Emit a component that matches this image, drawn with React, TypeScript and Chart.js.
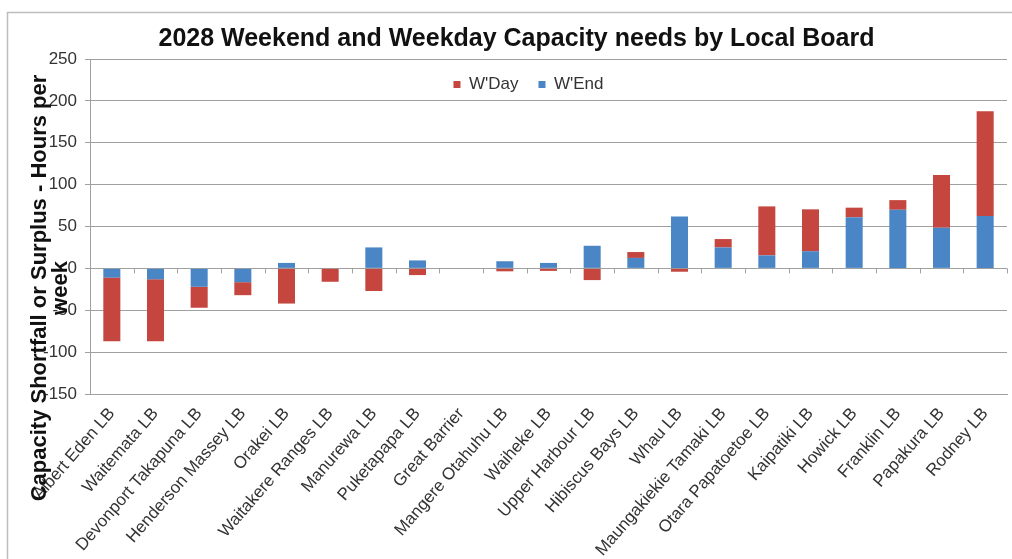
import React, { useEffect, useRef } from 'react';
import { Chart, registerables } from 'chart.js';

Chart.register(...registerables);

const categories = [
  'Albert Eden LB', 'Waitemata LB', 'Devonport Takapuna LB', 'Henderson Massey LB', 'Orakei LB',
  'Waitakere Ranges LB', 'Manurewa LB', 'Puketapapa LB', 'Great Barrier', 'Mangere Otahuhu LB',
  'Waiheke LB', 'Upper Harbour LB', 'Hibiscus Bays LB', 'Whau LB', 'Maungakiekie Tamaki LB',
  'Otara Papatoetoe LB', 'Kaipatiki LB', 'Howick LB', 'Franklin LB', 'Papakura LB', 'Rodney LB',
];

const weekendValues = [-11, -13, -22, -16.5, 6.5, 0, 25, 9.5, 0, 8.5, 6.5, 27, 12.5, 62, 25, 15.5, 20.5, 61, 70, 48.5, 62.5];
const weekdayValues = [-76, -74, -25, -15.5, -42, -16, -27, -8, 0, -3.5, -3, -14, 7, -4, 10, 58.5, 50, 11.5, 11.5, 63, 125];

const yMin = -150;
const yMax = 250;
const yStep = 50;

const titleText = '2028 Weekend and Weekday Capacity needs by Local Board';
const yTitleLines = ['Capacity Shortfall or Surplus - Hours per', 'week'];
const seriesNames = ["W'End", "W'Day"];

const FONT = "'Liberation Sans', Arial, sans-serif";
const GRID = '#a0a0a0';

const framePlugin = {
  id: 'frame',
  beforeDraw(chart: any) {
    const ctx = chart.ctx;
    ctx.save();
    ctx.fillStyle = '#ffffff';
    ctx.fillRect(0, 0, chart.width, chart.height);
    ctx.strokeStyle = '#bdbdbd';
    ctx.lineWidth = 1.5;
    ctx.beginPath();
    ctx.moveTo(7.5, chart.height);
    ctx.lineTo(7.5, 12.5);
    ctx.lineTo(chart.width, 12.5);
    ctx.stroke();
    ctx.restore();
  },
};

const yTitlePlugin = {
  id: 'yTitle',
  afterDraw(chart: any) {
    const ctx = chart.ctx;
    const xs = [40, 61];
    ctx.save();
    ctx.fillStyle = '#111111';
    ctx.font = `bold 22px ${FONT}`;
    ctx.textAlign = 'center';
    ctx.textBaseline = 'middle';
    yTitleLines.forEach((line, i) => {
      ctx.save();
      ctx.translate(xs[i], 288);
      ctx.rotate(-Math.PI / 2);
      ctx.fillText(line, 0, 0);
      ctx.restore();
    });
    ctx.restore();
  },
};

const zeroTicksPlugin = {
  id: 'zeroTicks',
  afterDatasetsDraw(chart: any) {
    const { ctx, chartArea } = chart;
    const y0 = chart.scales.y.getPixelForValue(0);
    const n = categories.length;
    const w = (chartArea.right - chartArea.left) / n;
    ctx.save();
    ctx.strokeStyle = GRID;
    ctx.lineWidth = 1;
    for (let i = 0; i <= n; i++) {
      const x = Math.round(chartArea.left + i * w) + 0.5;
      ctx.beginPath();
      ctx.moveTo(x, y0);
      ctx.lineTo(x, y0 + 5);
      ctx.stroke();
    }
    ctx.restore();
  },
};

// Place the legend inside the plot, below the top gridline, as in the reference.
const legendPlacePlugin = {
  id: 'legendPlace',
  afterLayout(chart: any) {
    const lg = chart.legend;
    if (lg) {
      lg.left += 12;
      lg.right += 12;
      lg.top = 56;
      lg.bottom = 100;
      lg.height = 44;
    }
  },
};

export default function App() {
  const ref = useRef<HTMLCanvasElement>(null);
  useEffect(() => {
    const chart = new Chart(ref.current as HTMLCanvasElement, {
      type: 'bar',
      data: {
        labels: categories,
        datasets: [
          {
            label: seriesNames[0],
            data: weekendValues,
            backgroundColor: '#4a85c6',
            barPercentage: 0.39,
            categoryPercentage: 1,
          },
          {
            label: seriesNames[1],
            data: weekdayValues,
            backgroundColor: '#c4463f',
            barPercentage: 0.39,
            categoryPercentage: 1,
          },
        ],
      },
      options: {
        responsive: false,
        animation: false,
        layout: { padding: { left: 26, right: 5, top: 0, bottom: 0 } },
        plugins: {
          title: {
            display: true,
            text: titleText,
            color: '#111111',
            font: { size: 25, weight: 'bold', family: FONT },
            padding: { top: 24.5, bottom: 0 },
          },
          legend: {
            position: 'top',
            reverse: true,
            maxHeight: 4.5,
            labels: {
              boxWidth: 7,
              boxHeight: 7,
              padding: 20,
              color: '#333333',
              font: { size: 17, family: FONT },
            },
          },
          tooltip: { enabled: false },
        },
        scales: {
          x: {
            stacked: true,
            grid: { display: false, drawTicks: false },
            border: { display: true, color: GRID },
            ticks: {
              autoSkip: false,
              minRotation: 49,
              maxRotation: 49,
              padding: 10,
              color: '#333333',
              font: { size: 17, family: FONT },
            },
            afterFit: (s: any) => { s.height = 165; },
          },
          y: {
            stacked: true,
            min: yMin,
            max: yMax,
            ticks: {
              stepSize: yStep,
              padding: 8,
              color: '#333333',
              font: { size: 17, family: FONT },
            },
            grid: { color: GRID, tickLength: 5, drawTicks: true },
            border: { display: true, color: GRID },
            afterFit: (s: any) => { s.width = 64; },
          },
        },
      },
      plugins: [framePlugin, yTitlePlugin, zeroTicksPlugin, legendPlacePlugin],
    } as any);
    return () => chart.destroy();
  }, []);
  return (
    <div style={{ position: 'fixed', left: 0, top: 0, width: 1012, height: 559 }}>
      <canvas ref={ref} width={1012} height={559} style={{ display: 'block' }} />
    </div>
  );
}
